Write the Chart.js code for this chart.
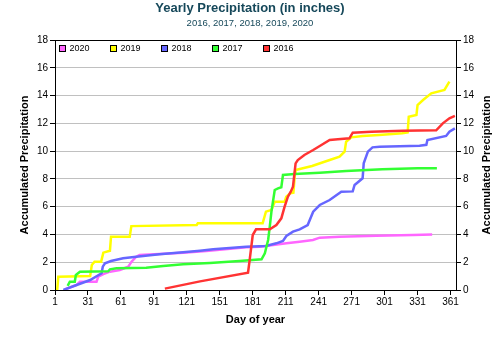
<!DOCTYPE html>
<html>
<head>
<meta charset="utf-8">
<title>Yearly Precipitation</title>
<script src="https://cdn.jsdelivr.net/npm/chart.js@4"></script>
<style>
  html, body { margin: 0; padding: 0; background: #fff; }
</style>
</head>
<body>
<canvas id="precipChart" width="500" height="340"></canvas>
<script>
// accumulated precipitation, inches, by day of year
const days2020 = [10, 20.7, 23.7, 38.8, 40.4, 45, 51, 60, 67.7, 70.7, 75, 78, 96, 117.6, 138.8, 175, 187, 199.5, 211.6, 223.7, 235.8, 242, 260, 293.5, 326.8, 344.3];
const rain2020 = [0.05, 0.36, 0.6, 0.6, 0.96, 1.15, 1.32, 1.44, 1.68, 2.04, 2.4, 2.52, 2.59, 2.69, 2.81, 3.07, 3.12, 3.24, 3.36, 3.48, 3.6, 3.77, 3.84, 3.91, 3.96, 4.0];

const days2019 = [3, 4, 33, 34.5, 37, 43, 45, 51, 52, 69, 70.5, 130, 131, 190, 193, 198, 201, 210, 211.5, 215, 218, 219.5, 220, 235, 251, 260, 264.6, 266, 270.7, 281, 296, 317, 322, 323, 330, 331, 336, 343.5, 355.5, 357, 360];
const rain2019 = [0, 0.95, 1.0, 1.8, 2.04, 2.04, 2.69, 2.83, 3.84, 3.84, 4.6, 4.68, 4.8, 4.8, 5.64, 5.76, 6.36, 6.36, 6.72, 6.96, 7.0, 8.5, 8.64, 8.93, 9.36, 9.6, 9.96, 10.68, 10.99, 11.09, 11.16, 11.28, 11.35, 12.48, 12.6, 13.32, 13.68, 14.16, 14.4, 14.6, 15.0];

const days2018 = [8.6, 20.7, 33, 43.4, 44.5, 46.5, 52, 63, 75, 96, 117.6, 133, 145, 175, 193, 202.5, 208.5, 211.6, 217.6, 223.7, 231, 236, 242, 251, 261.6, 272, 273.7, 281, 282, 285.8, 290, 296.5, 332.8, 339, 340, 357, 360, 365];
const rain2018 = [0, 0.36, 0.72, 1.2, 1.68, 1.92, 2.09, 2.28, 2.4, 2.57, 2.71, 2.83, 2.93, 3.12, 3.17, 3.36, 3.53, 3.89, 4.2, 4.37, 4.68, 5.64, 6.12, 6.48, 7.08, 7.1, 7.56, 8.04, 9.12, 9.96, 10.27, 10.32, 10.39, 10.45, 10.8, 11.09, 11.4, 11.64];

const days2017 = [12.5, 14.5, 19, 20, 23.7, 49.5, 51, 57, 84, 99.5, 117.6, 142, 169, 189, 192, 195, 196.5, 198, 201, 204, 207, 208.5, 219, 242, 266, 299, 331, 348.6];
const rain2017 = [0.3, 0.6, 0.6, 1.08, 1.32, 1.35, 1.49, 1.56, 1.6, 1.73, 1.85, 1.95, 2.09, 2.21, 2.64, 3.6, 4.56, 5.64, 7.2, 7.32, 7.4, 8.28, 8.35, 8.45, 8.57, 8.69, 8.76, 8.76];

const days2016 = [101, 133, 176.7, 178, 181, 184, 196.5, 202.5, 207, 210, 213, 215.6, 217.6, 220, 222, 228, 236, 243.5, 251, 258.5, 269, 272, 289, 317.7, 348, 354, 360, 365];
const rain2016 = [0.1, 0.62, 1.25, 2.04, 3.96, 4.37, 4.37, 4.68, 5.16, 6.0, 6.72, 7.08, 7.44, 9.12, 9.36, 9.72, 10.08, 10.44, 10.8, 10.85, 10.92, 11.33, 11.4, 11.47, 11.5, 12.0, 12.36, 12.53];

const years = ['2020', '2019', '2018', '2017', '2016'];
const yearColors = ['#ff66ff', '#ffff00', '#6666ff', '#33ff33', '#ff3333'];
const dayTicks = [1, 31, 61, 91, 121, 151, 181, 211, 241, 271, 301, 331, 361];

const fontFamily = '"Liberation Sans", Arial, sans-serif';
const titleColor = '#16485a';

function toPoints(days, rain) {
    return days.map((d, i) => ({ x: d, y: rain[i] }));
}

const series = [
    toPoints(days2020, rain2020),
    toPoints(days2019, rain2019),
    toPoints(days2018, rain2018),
    toPoints(days2017, rain2017),
    toPoints(days2016, rain2016)
];

// legend boxes drawn inside the plot, plus the right-hand axis title
const insideLegend = {
    id: 'insideLegend',
    afterDraw(chart) {
        const ctx = chart.ctx;
        const area = chart.chartArea;
        ctx.save();
        ctx.font = '9px ' + fontFamily;
        ctx.textBaseline = 'middle';
        ctx.textAlign = 'left';
        chart.data.datasets.forEach((ds, i) => {
            const x = Math.round(area.left + 4 + i * 51) + 0.5;
            const y = Math.round(area.top + 5) + 0.5;
            ctx.fillStyle = ds.borderColor;
            ctx.fillRect(x, y, 6, 6);
            ctx.strokeStyle = '#000';
            ctx.lineWidth = 1;
            ctx.strokeRect(x, y, 6, 6);
            ctx.fillStyle = '#000';
            ctx.fillText(ds.label, x + 10, y + 3.5);
        });

        ctx.translate(487, (area.top + area.bottom) / 2);
        ctx.rotate(-Math.PI / 2);
        ctx.font = 'bold 11px ' + fontFamily;
        ctx.textAlign = 'center';
        ctx.fillText('Accumulated Precipitation', 0, 0);
        ctx.restore();
    }
};

const tickFont = { family: fontFamily, size: 10 };
const axisTitleFont = { family: fontFamily, size: 11, weight: 'bold' };

new Chart(document.getElementById('precipChart'), {
    type: 'line',
    data: {
        datasets: years.map((y, i) => ({
            label: y,
            data: series[i],
            borderColor: yearColors[i],
            backgroundColor: yearColors[i],
            borderWidth: 2.5,
            pointRadius: 0,
            fill: false,
            tension: 0,
            order: years.length - i
        }))
    },
    options: {
        responsive: false,
        animation: false,
        layout: { padding: 0 },
        plugins: {
            legend: { display: false },
            tooltip: { enabled: false },
            title: {
                display: true,
                text: 'Yearly Precipitation (in inches)',
                color: titleColor,
                font: { family: fontFamily, size: 13, weight: 'bold' },
                padding: { top: 1, bottom: 0 }
            },
            subtitle: {
                display: true,
                text: '2016, 2017, 2018, 2019, 2020',
                color: titleColor,
                font: { family: fontFamily, size: 9.5 },
                padding: { top: 1, bottom: 11 }
            }
        },
        scales: {
            x: {
                type: 'linear',
                min: 1,
                max: 366,
                afterBuildTicks: scale => {
                    scale.ticks = dayTicks.map(v => ({ value: v }));
                },
                afterFit: scale => { scale.height = 50; },
                grid: { drawOnChartArea: false, tickLength: 5, tickColor: '#000' },
                border: { color: '#000' },
                ticks: { color: '#000', font: tickFont, padding: 1, maxRotation: 0, autoSkip: false },
                title: {
                    display: true,
                    text: 'Day of year',
                    color: '#000',
                    font: axisTitleFont,
                    padding: { top: 4, bottom: 13 }
                }
            },
            y: {
                position: 'left',
                min: 0,
                max: 18,
                afterFit: scale => { scale.width = 55; },
                ticks: { stepSize: 2, color: '#000', font: tickFont, padding: 2 },
                grid: {
                    color: ctx => (ctx.tick.value === 0 || ctx.tick.value === 18) ? '#000' : '#c0c0c0',
                    tickColor: '#000',
                    tickLength: 5
                },
                border: { color: '#000' },
                title: {
                    display: true,
                    text: 'Accumulated Precipitation',
                    color: '#000',
                    font: axisTitleFont,
                    padding: { top: 18, bottom: 0 }
                }
            },
            y2: {
                position: 'right',
                min: 0,
                max: 18,
                afterFit: scale => { scale.width = 44; },
                ticks: { stepSize: 2, color: '#000', font: tickFont, padding: 2 },
                grid: { drawOnChartArea: false, tickColor: '#000', tickLength: 5 },
                border: { color: '#000' }
            }
        }
    },
    plugins: [insideLegend]
});
</script>
</body>
</html>
